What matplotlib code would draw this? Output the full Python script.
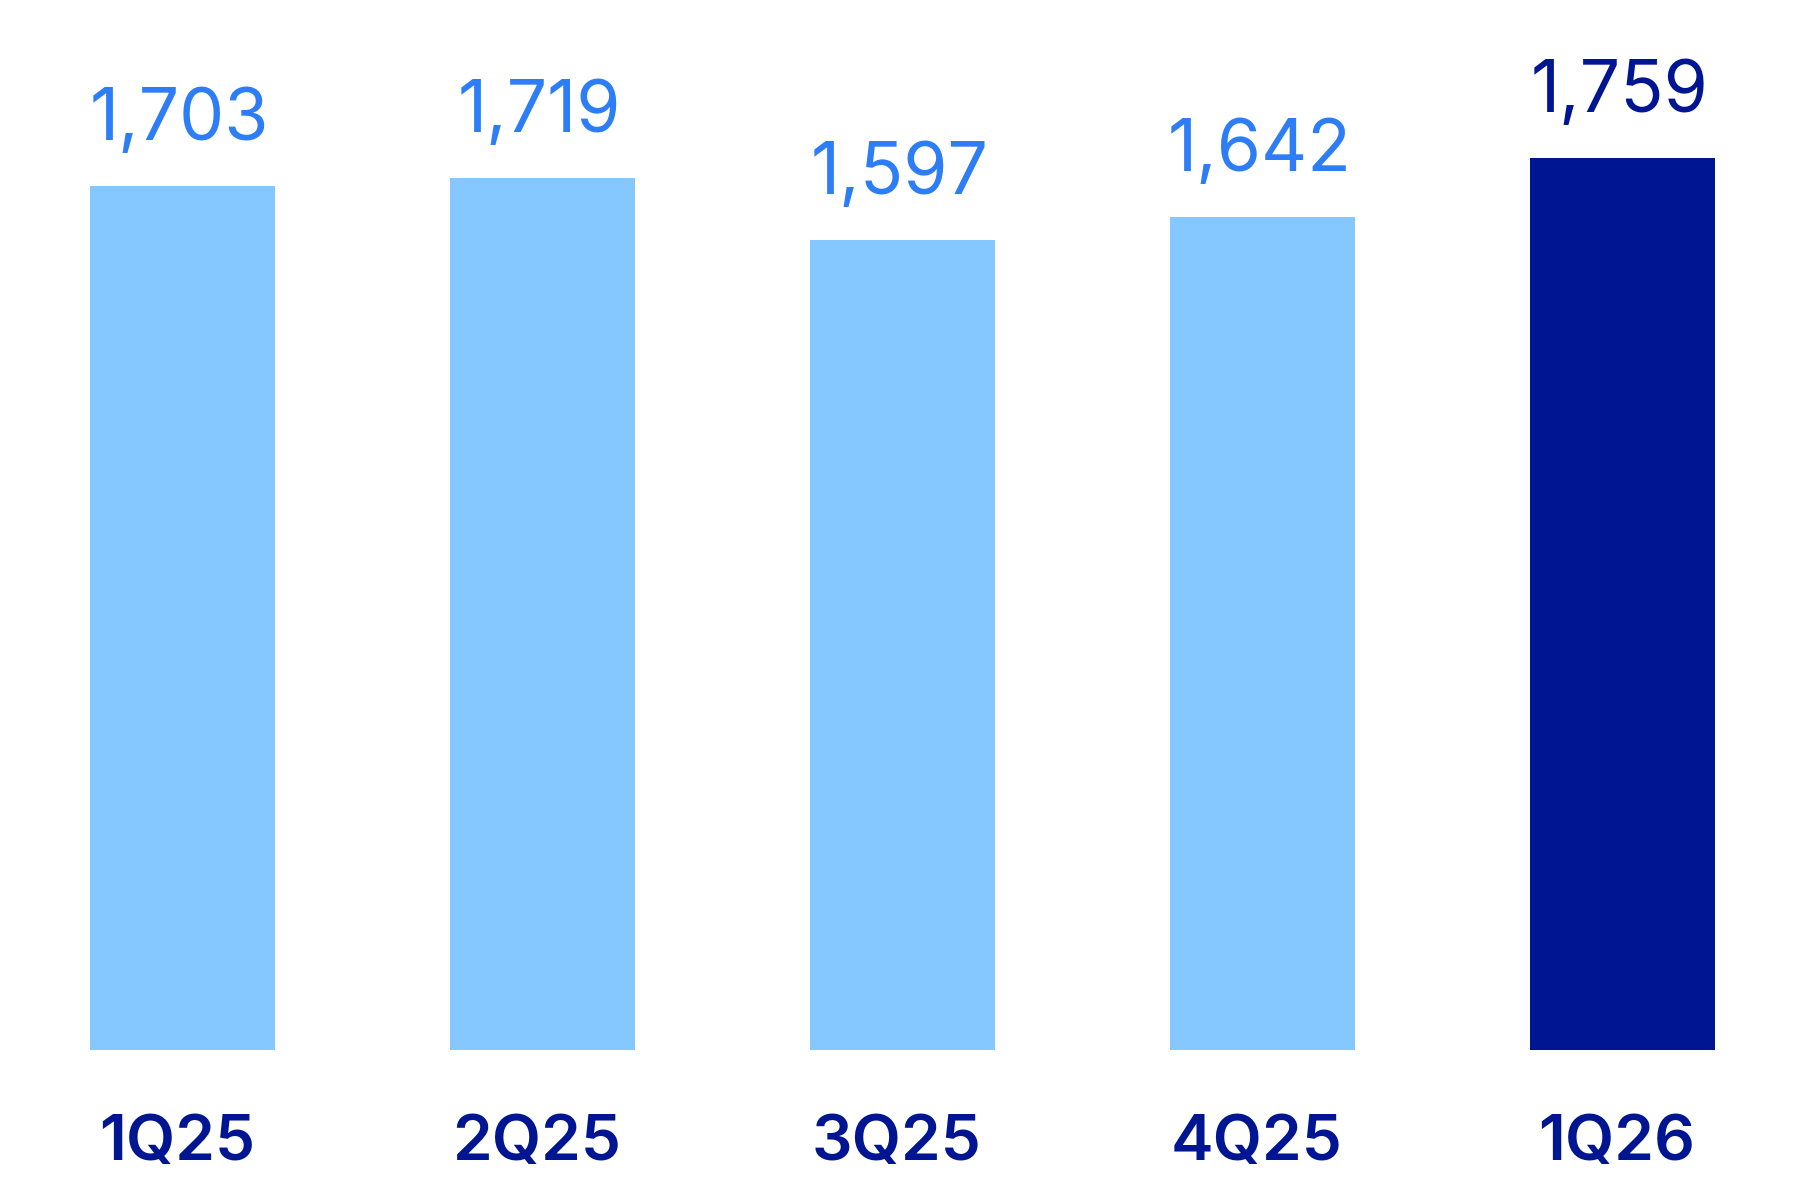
import matplotlib
matplotlib.use("Agg")
import matplotlib.pyplot as plt

categories = ["1Q25", "2Q25", "3Q25", "4Q25", "1Q26"]
values = [1703, 1719, 1597, 1642, 1759]
value_labels = ["1,703", "1,719", "1,597", "1,642", "1,759"]

light_bar = "#85C8FF"
dark_bar = "#001591"
light_text = "#2D7DF6"
dark_text = "#001591"

bar_colors = [light_bar] * 4 + [dark_bar]
label_colors = [light_text] * 4 + [dark_text]

plt.rcParams['font.family'] = ['Inter', 'DejaVu Sans']

fig = plt.figure(figsize=(18, 12), dpi=100)
ax = fig.add_axes([0, 0, 1, 1])
x = list(range(len(categories)))
ax.bar(x, values, width=0.514, color=bar_colors, linewidth=0)

ax.set_xlim(-0.507, 4.493)
ax.set_ylim(-295.7, 2069.8)
ax.axis('off')

for xi, v, lab, c in zip(x, values, value_labels, label_colors):
    ax.annotate(lab, xy=(xi, v), xytext=(-2, 33), textcoords='offset points',
                ha='center', va='baseline', fontsize=51.5, color=c)

for xi, cat in zip(x, categories):
    ax.annotate(cat, xy=(xi, 0), xytext=(-4, -79), textcoords='offset points',
                ha='center', va='baseline', fontsize=46, fontweight='semibold',
                color=dark_text)

fig.savefig("out.png", dpi=100, facecolor='white')
